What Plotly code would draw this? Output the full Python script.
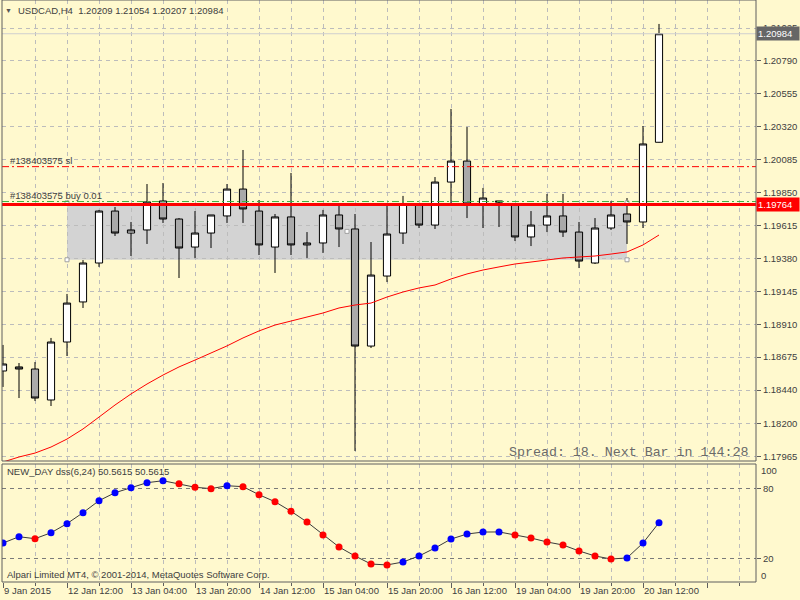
import plotly.graph_objects as go

# ---------------- data ----------------
title_text = "USDCAD,H4  1.20209 1.21054 1.20207 1.20984"
x_label_bars = [0, 4, 8, 12, 16, 20, 24, 28, 32, 36, 40]
x_label_text = ["9 Jan 2015", "12 Jan 12:00", "13 Jan 04:00", "13 Jan 20:00",
                "14 Jan 12:00", "15 Jan 04:00", "15 Jan 20:00", "16 Jan 12:00",
                "19 Jan 04:00", "19 Jan 20:00", "20 Jan 12:00"]
bars = list(range(42))

open_ = [1.18576, 1.18605, 1.18590, 1.18369, 1.18783, 1.19069, 1.19347, 1.19718, 1.19561, 1.19583,
         1.19790, 1.19661, 1.19461, 1.19561, 1.19683, 1.19875, 1.19718, 1.19461, 1.19676, 1.19476,
         1.19490, 1.19690, 1.19590, 1.18754, 1.19254, 1.19561, 1.19768, 1.19618, 1.19925, 1.20075,
         1.19761, 1.19790, 1.19761, 1.19533, 1.19618, 1.19683, 1.19568, 1.19347, 1.19597, 1.19697,
         1.19640, 1.20209]
high = [1.18762, 1.18633, 1.18640, 1.18812, 1.19126, 1.19368, 1.19726, 1.19747, 1.19640, 1.19911,
        1.19918, 1.19668, 1.19718, 1.19690, 1.19911, 1.20154, 1.19797, 1.19697, 1.19990, 1.19568,
        1.19726, 1.19761, 1.19697, 1.19497, 1.19768, 1.19826, 1.19775, 1.19961, 1.20447, 1.20318,
        1.19883, 1.19790, 1.19768, 1.19718, 1.19840, 1.19840, 1.19640, 1.19668, 1.19790, 1.19811,
        1.20325, 1.21054]
low = [1.18462, 1.18383, 1.18362, 1.18326, 1.18683, 1.19026, 1.19319, 1.19540, 1.19397, 1.19483,
       1.19633, 1.19240, 1.19383, 1.19454, 1.19633, 1.19633, 1.19404, 1.19276, 1.19404, 1.19383,
       1.19419, 1.19461, 1.18005, 1.18740, 1.19211, 1.19483, 1.19597, 1.19590, 1.19768, 1.19668,
       1.19597, 1.19604, 1.19504, 1.19468, 1.19568, 1.19533, 1.19311, 1.19340, 1.19583, 1.19483,
       1.19597, 1.20207]
close = [1.18626, 1.18590, 1.18383, 1.18783, 1.19061, 1.19347, 1.19718, 1.19561, 1.19583, 1.19783,
         1.19661, 1.19454, 1.19561, 1.19690, 1.19875, 1.19733, 1.19476, 1.19676, 1.19476, 1.19490,
         1.19690, 1.19590, 1.18754, 1.19261, 1.19554, 1.19768, 1.19618, 1.19925, 1.20075, 1.19768,
         1.19811, 1.19783, 1.19533, 1.19618, 1.19683, 1.19568, 1.19361, 1.19597, 1.19690, 1.19640,
         1.20197, 1.20984]
ma = [1.17926, 1.17962, 1.17990, 1.18033, 1.18090, 1.18162, 1.18247, 1.18333, 1.18412, 1.18483,
      1.18547, 1.18605, 1.18654, 1.18705, 1.18755, 1.18812, 1.18862, 1.18904, 1.18933, 1.18962,
      1.18990, 1.19026, 1.19047, 1.19061, 1.19104, 1.19140, 1.19169, 1.19190, 1.19233, 1.19269,
      1.19297, 1.19319, 1.19340, 1.19354, 1.19368, 1.19383, 1.19390, 1.19397, 1.19411, 1.19426,
      1.19476, 1.19547]

dss = [33.1, 38.5, 36.8, 41.9, 49.7, 59.1, 69.4, 76.2, 80.5, 84.8,
       86.5, 83.9, 80.9, 79.7, 82.2, 81.4, 74.5, 68.5, 60.3, 51.1,
       40.0, 29.7, 22.0, 15.1, 14.3, 16.8, 22.0, 28.8, 36.5, 40.8,
       42.5, 42.6, 40.0, 37.4, 34.0, 31.4, 26.3, 22.0, 19.4, 20.3,
       33.1, 50.56]
dss_dir = ["up", "up", "dn", "up", "up", "up", "up", "up", "up", "up",
           "up", "dn", "dn", "dn", "up", "dn", "dn", "dn", "dn", "dn",
           "dn", "dn", "dn", "dn", "dn", "up", "up", "up", "up", "up",
           "up", "up", "dn", "dn", "dn", "dn", "dn", "dn", "dn", "up",
           "up", "up"]

price_ticks = [1.21025, 1.20790, 1.20555, 1.20320, 1.20085, 1.19850, 1.19615,
               1.19380, 1.19145, 1.18910, 1.18675, 1.18440, 1.18200, 1.17965]
ind_ticks = [80, 20]
ind_edge_labels = ["100", "0"]

alert_level = 1.19764
order_level = 1.19786
sl_level = 1.20035
bid_level = 1.20984
zone_bars = [4, 39]
zone_prices = [1.19370, 1.19776]

order_label = "#138403575 buy 0.01"
sl_label = "#138403575 sl"
ind_title = "NEW_DAY dss(6,24) 50.5615 50.5615"
copyright_text = "Alpari Limited MT4, \u00a9 2001-2014, MetaQuotes Software Corp."
spread_text = "Spread: 18. Next Bar in 144:28"

# ---------------- styling / geometry ----------------
W, H = 800, 600
ML, MR, MT, MB = 2, 44, 0, 18
PW, PH = W - ML - MR, H - MT - MB
BG = "#fff9ce"
GRID = "#bcbcbc"
BORDER = "#5e5e5e"
TXT = "#404040"
FONT = "Liberation Sans"
FS = 9.5

main_px = (0, 461)
ind_px = (464, 582)
px_per_price = 1 / 0.0000714
price_at_px0 = 1.212249
bar_px0, bar_step = 3.0, 16.0


def px_x(px):
    return (px - ML) / PW


def px_y(py):
    return (PH - (py - MT)) / PH


main_range = [price_at_px0 - main_px[1] / px_per_price, price_at_px0]
ind_scale = 70.0 / 60.0
ind_range = [80 - (ind_px[1] - 488.3) / ind_scale, 80 - (ind_px[0] - 488.3) / ind_scale]
x_range = [(ML - bar_px0) / bar_step, (ML + PW - bar_px0) / bar_step]

major_ticks = list(range(0, 48, 4))
minor_ticks = list(range(2, 48, 4))

fig = go.Figure()

# rectangle zone (below grid)
fig.add_shape(type="rect", xref="x", yref="y", x0=zone_bars[0], x1=zone_bars[1],
              y0=zone_prices[0], y1=zone_prices[1], fillcolor="#d3d3d3",
              line=dict(width=0), layer="below")

fig.add_trace(go.Candlestick(
    x=bars, open=open_, high=high, low=low, close=close,
    increasing=dict(fillcolor="#ffffff", line=dict(color="#000000", width=1)),
    decreasing=dict(fillcolor="#a9a9a9", line=dict(color="#000000", width=1)),
    whiskerwidth=0, xaxis="x", yaxis="y", showlegend=False, hoverinfo="skip"))

fig.add_trace(go.Scatter(x=bars, y=ma, mode="lines", line=dict(color="#ff0000", width=1),
                         xaxis="x", yaxis="y", showlegend=False, hoverinfo="skip"))

# zone anchor markers
fig.add_trace(go.Scatter(
    x=[zone_bars[0], zone_bars[0], zone_bars[1], zone_bars[1], sum(zone_bars) / 2],
    y=[zone_prices[1], zone_prices[0], zone_prices[0], zone_prices[1], sum(zone_prices) / 2],
    mode="markers", marker=dict(symbol="square", size=4, color="#ffffff",
                                line=dict(color="#a0a0a0", width=1)),
    xaxis="x", yaxis="y", showlegend=False, hoverinfo="skip"))

# horizontal level lines
def hline(level, color, width, dash):
    fig.add_shape(type="line", xref="paper", yref="y", x0=0, x1=1, y0=level, y1=level,
                  line=dict(color=color, width=width, dash=dash), layer="above")


hline(bid_level, "#cfcfcf", 1, "solid")
hline(sl_level, "#ff0000", 1, "7px,3px,2px,3px")
hline(order_level, "#44b044", 1, "7px,3px,2px,3px")
hline(alert_level, "#ff0000", 3, "solid")

# indicator
fig.add_trace(go.Scatter(
    x=bars, y=dss, mode="lines+markers",
    line=dict(color="#3a3a3a", width=1),
    marker=dict(size=7, color=["#0000ff" if d == "up" else "#ff0000" for d in dss_dir],
                line=dict(width=0)),
    xaxis="x", yaxis="y2", showlegend=False, hoverinfo="skip"))

# panel borders
for (top, bot) in (main_px, ind_px):
    fig.add_shape(type="rect", xref="paper", yref="paper", x0=0, x1=1,
                  y0=px_y(bot), y1=px_y(top), line=dict(color=BORDER, width=1),
                  fillcolor="rgba(0,0,0,0)", layer="above")

ann = []
# x axis labels
for b, t in zip(x_label_bars, x_label_text):
    ann.append(dict(text=t, x=b, xref="x", y=0, yref="paper", xanchor="left", yanchor="top",
                    xshift=-1, yshift=-1, showarrow=False, font=dict(family=FONT, size=FS, color=TXT)))
# price boxes
ann.append(dict(text=f"{bid_level:.5f}", x=1, xref="paper", y=bid_level, yref="y",
                xanchor="left", yanchor="middle", showarrow=False, bgcolor="#666666",
                font=dict(family=FONT, size=FS, color="#ffffff"), width=40, height=11,
                align="left", borderpad=1))
ann.append(dict(text=f"{alert_level:.5f}", x=1, xref="paper", y=alert_level, yref="y",
                xanchor="left", yanchor="middle", showarrow=False, bgcolor="#ff0000",
                font=dict(family=FONT, size=FS, color="#ffffff"), width=40, height=11,
                align="left", borderpad=1))
# indicator edge labels
for lbl, py in zip(ind_edge_labels, (470, 575)):
    ann.append(dict(text=lbl, x=1, xref="paper", y=px_y(py), yref="paper", xanchor="left",
                    yanchor="middle", xshift=3, showarrow=False,
                    font=dict(family=FONT, size=FS, color=TXT)))
# text labels
def label(text, px, py, size=FS, color=TXT, family=FONT, anchor="left"):
    ann.append(dict(text=text, x=px_x(px), xref="paper", y=px_y(py), yref="paper",
                    xanchor=anchor, yanchor="middle", showarrow=False,
                    font=dict(family=family, size=size, color=color)))


label("\u25bc", 3, 10, size=7, color="#555555")
label(title_text, 16, 10)
label(sl_label, 8, 160)
label(order_label, 8, 195)
label(ind_title, 5, 471)
label(copyright_text, 5, 574)
label(spread_text, 750, 452, size=13.3, color="#6a6a6a", family="Liberation Mono", anchor="right")

fig.update_layout(
    width=W, height=H, margin=dict(l=ML, r=MR, t=MT, b=MB),
    paper_bgcolor=BG, plot_bgcolor=BG, showlegend=False,
    xaxis=dict(domain=[0, 1], anchor="y2", range=x_range, tickmode="array", tickvals=major_ticks,
               showticklabels=False, ticks="outside", ticklen=5, tickcolor=BORDER, tickwidth=1,
               showgrid=True, gridcolor=GRID, griddash="4px,4px", gridwidth=1, zeroline=False,
               showline=False, rangeslider=dict(visible=False),
               minor=dict(tickvals=minor_ticks, ticks="outside", ticklen=3, tickcolor=BORDER,
                          showgrid=True, gridcolor=GRID, griddash="4px,4px", gridwidth=1)),
    yaxis=dict(domain=[px_y(main_px[1]), 1], anchor="x", side="right", range=main_range,
               tickmode="array", tickvals=price_ticks, ticktext=[f"{v:.5f}" for v in price_ticks],
               ticks="outside", ticklen=4, tickcolor=BORDER, showgrid=True, gridcolor=GRID,
               griddash="4px,4px", zeroline=False, showline=False,
               tickfont=dict(family=FONT, size=FS, color=TXT)),
    yaxis2=dict(domain=[0, px_y(ind_px[0])], anchor="x", side="right", range=ind_range,
                tickmode="array", tickvals=ind_ticks, ticktext=[str(v) for v in ind_ticks],
                ticks="outside", ticklen=4, tickcolor=BORDER, showgrid=True, gridcolor="#7a7a7a",
                griddash="4px,4px", zeroline=False, showline=False,
                tickfont=dict(family=FONT, size=FS, color=TXT)),
    annotations=ann,
    boxgap=0.36,
)

fig.write_html("out.html")
